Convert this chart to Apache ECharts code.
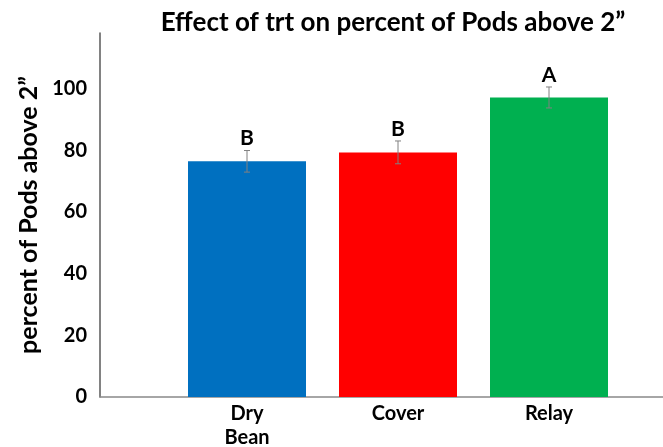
<!DOCTYPE html>
<html>
<head>
<meta charset="utf-8">
<script src="https://cdn.jsdelivr.net/npm/echarts@6/dist/echarts.min.js"></script>
<style>
  html, body { margin: 0; padding: 0; background: #fff; }
  #echarts { width: 663px; height: 447px; }
</style>
</head>
<body>
<div id="echarts"></div>
<script>
var categories = ['Dry\nBean', 'Cover', 'Relay'];
var values = [76.4, 79.3, 97.1];
var errors = [3.5, 3.7, 3.4];
var letters = ['B', 'B', 'A'];
var barColors = ['#0070C0', '#FF0000', '#00B050'];
var yTicks = [0, 20, 40, 60, 80, 100];

window.onload = function(){
    var font = 'Lato';
    var yMax = 118;
    var option = {
        backgroundColor: '#fff',
        animation: false,
        title: {
            text: 'Effect of trt on percent of Pods above 2\u201d',
            left: 388,
            top: 5,
            textAlign: 'center',
            textStyle: { fontFamily: font, fontWeight: 'bold', fontSize: 26, color: '#000' }
        },
        grid: [
            { left: 100, right: 0, top: 33, bottom: 50, outerBoundsMode: 'none' },   // outer axes
            { left: 171.5, width: 453, top: 33, bottom: 50, outerBoundsMode: 'none' } // bars
        ],
        xAxis: [{
            gridIndex: 0, type: 'value', min: 0, max: 1,
            axisLine: { show: true, lineStyle: { color: '#898989', width: 1.5 } },
            axisTick: { show: false }, axisLabel: { show: false }, splitLine: { show: false }
        }, {
            gridIndex: 1, type: 'category', data: categories,
            axisLine: { show: false }, axisTick: { show: false },
            axisLabel: { fontFamily: font, fontWeight: 'bold', fontSize: 20, color: '#000', margin: 5, lineHeight: 24 }
        }],
        yAxis: [{
            gridIndex: 0, type: 'value', min: 0, max: yMax, interval: 20,
            name: 'percent of Pods above 2\u201d',
            nameLocation: 'middle', nameRotate: 90, nameGap: 56,
            nameTextStyle: { fontFamily: font, fontWeight: 'bold', fontSize: 25, color: '#000' },
            axisLine: { show: true, lineStyle: { color: '#595959', width: 1.5 } },
            axisTick: { show: false },
            splitLine: { show: false },
            axisLabel: {
                fontFamily: font, fontWeight: 'bold', fontSize: 20, color: '#000', margin: 13,
                formatter: function (v) { return yTicks.indexOf(v) >= 0 ? v : ''; }
            }
        }, {
            gridIndex: 1, type: 'value', min: 0, max: yMax, show: false
        }],
        series: [{
            type: 'bar',
            xAxisIndex: 1, yAxisIndex: 1,
            barWidth: 118,
            data: values.map(function (v, i) {
                return { value: v, itemStyle: { color: barColors[i] } };
            })
        }, {
            type: 'custom',
            xAxisIndex: 1, yAxisIndex: 1,
            z: 5,
            data: values.map(function (v, i) { return [i, v, errors[i], letters[i]]; }),
            renderItem: function (params, api) {
                var i = api.value(0);
                var v = api.value(1);
                var e = api.value(2);
                var hi = api.coord([i, v + e]);
                var lo = api.coord([i, v - e]);
                var cap = 3;
                var st = { stroke: '#808080', lineWidth: 1 };
                return {
                    type: 'group',
                    children: [
                        { type: 'line', shape: { x1: hi[0], y1: hi[1], x2: lo[0], y2: lo[1] }, style: st },
                        { type: 'line', shape: { x1: hi[0] - cap, y1: hi[1], x2: hi[0] + cap, y2: hi[1] }, style: st },
                        { type: 'line', shape: { x1: lo[0] - cap, y1: lo[1], x2: lo[0] + cap, y2: lo[1] }, style: st },
                        {
                            type: 'text', x: hi[0], y: hi[1] - 12,
                            style: {
                                text: letters[params.dataIndex], fill: '#000',
                                font: 'bold 21px Lato', align: 'center', verticalAlign: 'middle'
                            }
                        }
                    ]
                };
            }
        }]
    };
    var myChart = echarts.init(document.getElementById('echarts'));
    myChart.setOption(option);
    window.onresize = function(){
        myChart.resize();
    };
};
</script>
</body>
</html>
